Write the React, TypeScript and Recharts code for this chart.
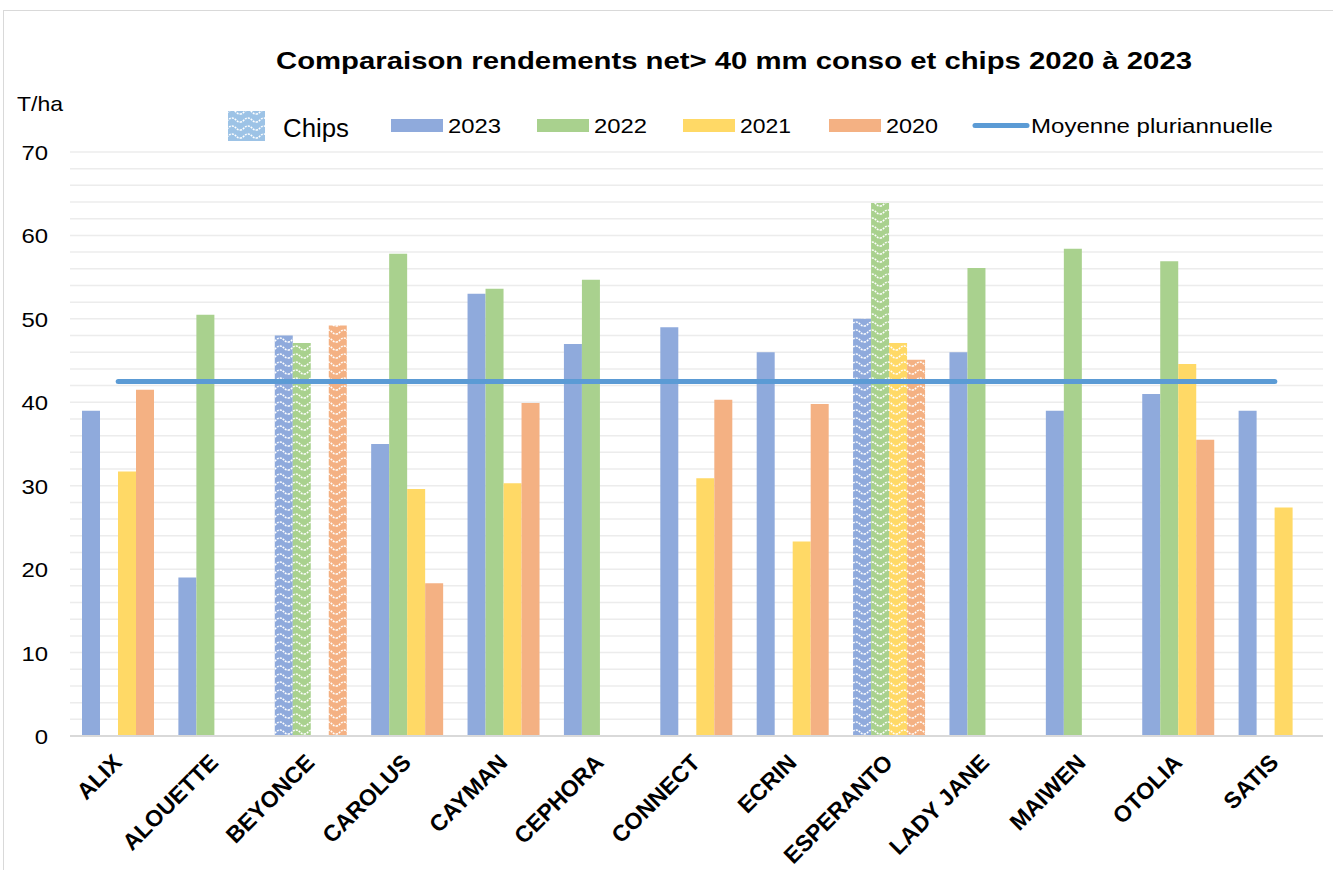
import { ComposedChart, Bar, Line, Cell, XAxis, YAxis, CartesianGrid, Legend } from "recharts";

const varieties = ["ALIX", "ALOUETTE", "BEYONCE", "CAROLUS", "CAYMAN", "CEPHORA", "CONNECT", "ECRIN", "ESPERANTO", "LADY JANE", "MAIWEN", "OTOLIA", "SATIS"];
const y2023 = [39, 19, 48, 35, 53, 47, 49, 46, 50, 46, 39, 41, 39];
const y2022 = [null, 50.5, 47.1, 57.8, 53.6, 54.7, null, null, 63.9, 56.1, 58.4, 56.9, null];
const y2021 = [31.7, null, null, 29.6, 30.3, null, 30.9, 23.3, 47.1, null, null, 44.6, 27.4];
const y2020 = [41.5, null, 49.2, 18.3, 39.9, null, 40.3, 39.8, 45.1, null, null, 35.5, null];
const isChips = [false, false, true, false, false, false, false, false, true, false, false, false, false];
const moyenne = 42.5;
const yTicks = [0, 2, 4, 6, 8, 10, 12, 14, 16, 18, 20, 22, 24, 26, 28, 30, 32, 34, 36, 38, 40, 42, 44, 46, 48, 50, 52, 54, 56, 58, 60, 62, 64, 66, 68, 70];

const W = 1333;
const H = 870;
const FONT = "'Liberation Sans', Arial, sans-serif";

const series = [
  { key: "y2023", name: "2023", color: "#8FAADC" },
  { key: "y2022", name: "2022", color: "#A9D18E" },
  { key: "y2021", name: "2021", color: "#FFD966" },
  { key: "y2020", name: "2020", color: "#F4B183" },
];

const data = varieties.map((v, i) => ({
  name: v,
  y2023: y2023[i],
  y2022: y2022[i],
  y2021: y2021[i],
  y2020: y2020[i],
  moyenne,
}));

const WavePattern = ({ id, color }: { id: string; color: string }) => (
  <pattern id={id} patternUnits="userSpaceOnUse" width={16} height={8}>
    <rect width={16} height={8} fill={color} />
    <path
      d="M0,6 C4,6 4,2 8,2 C12,2 12,6 16,6"
      fill="none"
      stroke="#ffffff"
      strokeWidth={1.5}
      strokeDasharray="2 1"
    />
  </pattern>
);

const YTick = ({ x, y, payload }: any) => {
  const v = payload.value;
  if (v % 10 !== 0) return <g />;
  const s = String(v);
  return (
    <text x={x - 22} y={y + 8} textAnchor="end" fontSize={21} fill="#000" fontFamily={FONT}
      textLength={s.length * 13.3} lengthAdjust="spacingAndGlyphs">
      {s}
    </text>
  );
};

const XTick = ({ x, y, payload }: any) => {
  const ax = x + 5;
  const ay = y + 28;
  return (
    <text x={ax} y={ay} textAnchor="end" fontSize={23} fontWeight="bold" fill="#000" fontFamily={FONT}
      transform={`rotate(-45 ${ax} ${ay})`}>
      {payload.value}
    </text>
  );
};

const renderLegend = () => {
  // x positions of the legend items
  const items = [
    { x: 391, tx: 448, len: 53 },
    { x: 537, tx: 594, len: 53 },
    { x: 683, tx: 740, len: 51 },
    { x: 829, tx: 886, len: 52 },
  ];
  return (
    <svg width={W} height={45} style={{ display: "block" }}>
      <rect x={228} y={11} width={37} height={30} fill="url(#waveChips)" />
      <text x={283} y={37} fontSize={25} fontFamily={FONT} fill="#000" textLength={66} lengthAdjust="spacingAndGlyphs">Chips</text>
      {series.map((s, i) => (
        <g key={s.key}>
          <rect x={items[i].x} y={19} width={52} height={13} fill={s.color} />
          <text x={items[i].tx} y={33} fontSize={20} fontFamily={FONT} fill="#000"
            textLength={items[i].len} lengthAdjust="spacingAndGlyphs">{s.name}</text>
        </g>
      ))}
      <line x1={975} y1={25.5} x2={1027} y2={25.5} stroke="#5B9BD5" strokeWidth={5} strokeLinecap="round" />
      <text x={1031} y={33} fontSize={20} fontFamily={FONT} fill="#000" textLength={242} lengthAdjust="spacingAndGlyphs">
        Moyenne pluriannuelle
      </text>
    </svg>
  );
};

export default function App() {
  return (
    <div style={{ position: "absolute", left: 0, top: 0, width: W, height: H, background: "#fff", overflow: "hidden" }}>
      <svg width={0} height={0} style={{ position: "absolute" }}>
        <defs>
          <WavePattern id="waveChips" color="#9DC3E6" />
          {series.map((s) => (
            <WavePattern key={s.key} id={`wave-${s.key}`} color={s.color} />
          ))}
        </defs>
      </svg>
      <div style={{ position: "absolute", left: 3, top: 10, width: W, height: H, borderLeft: "1.5px solid #d9d9d9", borderTop: "1.5px solid #d9d9d9" }} />
      <svg width={W} height={150} style={{ position: "absolute", left: 0, top: 0 }}>
        <text x={734} y={69} textAnchor="middle" fontSize={24} fontWeight="bold" fontFamily={FONT} fill="#000"
          textLength={916} lengthAdjust="spacingAndGlyphs">
          Comparaison rendements net&gt; 40 mm conso et chips 2020 à 2023
        </text>
        <text x={17} y={111} fontSize={21} fontFamily={FONT} fill="#000" textLength={46} lengthAdjust="spacingAndGlyphs">T/ha</text>
      </svg>
      <div style={{ position: "absolute", left: 0, top: 0 }}>
        <ComposedChart width={W} height={H} data={data} margin={{ top: 152, right: 10, bottom: 0, left: 0 }}
          barCategoryGap={12} barGap={0}>
          <CartesianGrid vertical={false} stroke="#ececec" strokeWidth={1.5} />
          <XAxis dataKey="name" interval={0} tickLine={false} tickSize={0} tickMargin={0}
            axisLine={{ stroke: "#d9d9d9", strokeWidth: 2 }} tick={<XTick />} height={134} />
          <YAxis domain={[0, 70]} ticks={yTicks} interval={0} axisLine={false} tickLine={false}
            tickSize={0} tickMargin={0} width={70} tick={<YTick />} />
          <Legend verticalAlign="middle" layout="horizontal" content={renderLegend}
            wrapperStyle={{ top: 100, left: 0, width: W, height: 45 }} />
          {series.map((s) => (
            <Bar key={s.key} dataKey={s.key} name={s.name} fill={s.color} isAnimationActive={false}>
              {data.map((d, i) => (
                <Cell key={d.name} fill={isChips[i] ? `url(#wave-${s.key})` : s.color} />
              ))}
            </Bar>
          ))}
          <Line dataKey="moyenne" name="Moyenne pluriannuelle" stroke="#5B9BD5" strokeWidth={5}
            strokeLinecap="round" dot={false} activeDot={false} isAnimationActive={false} />
        </ComposedChart>
      </div>
    </div>
  );
}
